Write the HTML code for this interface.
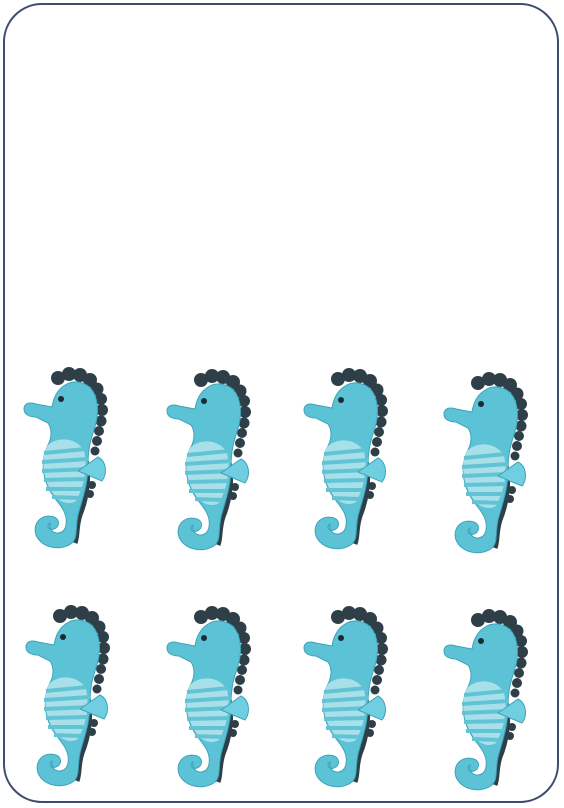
<!DOCTYPE html>
<html><head><meta charset="utf-8"><style>
html,body{margin:0;padding:0;background:#fff;}
svg{display:block;}
</style></head><body>
<svg width="564" height="808" viewBox="0 0 564 808">
<defs>
<symbol id="sh" viewBox="0 0 90 185">
  <g fill="#2e3f48">
    <circle cx="38" cy="13" r="7"/><circle cx="49" cy="9" r="7"/><circle cx="60" cy="10" r="7"/>
    <circle cx="70" cy="15" r="7"/><circle cx="77" cy="24" r="6.5"/><circle cx="81" cy="34" r="6"/>
    <circle cx="82" cy="45" r="6"/><circle cx="81" cy="56" r="5.5"/><circle cx="79" cy="66" r="5"/>
    <circle cx="77" cy="76" r="5"/><circle cx="75" cy="86" r="4.5"/><circle cx="72" cy="120" r="4"/>
    <circle cx="70" cy="129" r="4"/>
  </g>
  <path d="M66 95 C70 115 66 135 60 150 C56 162 58 170 55 178" stroke="#2e3f48" stroke-width="5" fill="none"/>
  <path d="M4 44 C4 38 10 37 16 39 L32 42 C35 22 50 14 62 18 C76 22 80 40 76 58 C72 72 68 80 68 100 C68 120 62 135 58 150 C55 165 58 172 52 178 C42 186 22 184 16 170 C12 158 22 148 34 152 C40 154 40 162 34 164 C28 166 26 160 30 158 C28 170 44 172 46 160 C48 148 40 140 34 132 C22 116 20 95 28 80 C32 72 32 64 28 58 L16 52 C10 52 4 50 4 44 Z" fill="#5cc2d6" stroke="#3ea3b9" stroke-width="1"/>
  <path d="M28 80 C40 70 58 74 64 86 C68 102 64 122 56 136 C50 140 40 138 34 130 C22 114 20 92 28 80 Z" fill="#a8e0ea"/>
  <g stroke="#62c3d5" stroke-width="4">
    <line x1="24" y1="88" x2="66" y2="84"/><line x1="22" y1="97" x2="68" y2="94"/>
    <line x1="22" y1="106" x2="68" y2="104"/><line x1="24" y1="115" x2="66" y2="114"/>
    <line x1="26" y1="124" x2="64" y2="124"/><line x1="32" y1="132" x2="60" y2="133"/>
  </g>
  <path d="M58 106 L78 92 C86 96 88 108 82 116 Z" fill="#6fcfe0" stroke="#3ea3b9" stroke-width="1"/>
  <circle cx="41" cy="34" r="3" fill="#1c2a33"/>
</symbol>
</defs>
<rect x="4" y="4" width="554" height="798" rx="38" ry="38" fill="#fff" stroke="#3d4c6c" stroke-width="2"/>
<use href="#sh" x="20" y="365" width="90" height="185"/>
<use href="#sh" x="163" y="367" width="90" height="185"/>
<use href="#sh" x="300" y="366" width="90" height="185"/>
<use href="#sh" x="440" y="370" width="90" height="185"/>
<use href="#sh" x="22" y="603" width="90" height="185"/>
<use href="#sh" x="163" y="604" width="90" height="185"/>
<use href="#sh" x="300" y="604" width="90" height="185"/>
<use href="#sh" x="440" y="607" width="90" height="185"/>
</svg>
</body></html>
